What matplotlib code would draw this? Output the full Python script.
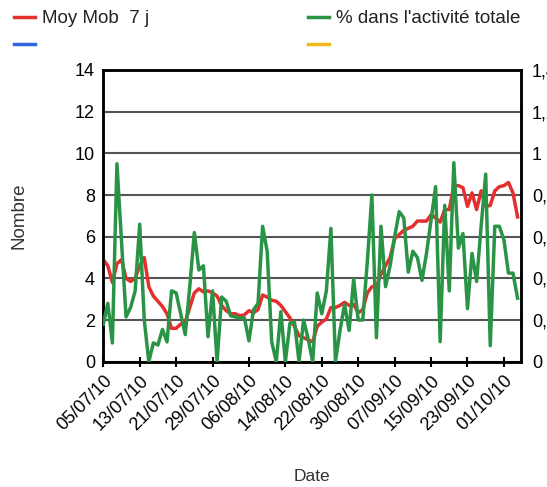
import numpy as np
import pandas as pd
import matplotlib
matplotlib.use("Agg")
import matplotlib.pyplot as plt
import matplotlib.dates as mdates
from matplotlib.lines import Line2D
from matplotlib.ticker import FuncFormatter

plt.rcParams['font.family'] = ['Liberation Sans', 'DejaVu Sans']

start = '2010-07-05'
n_days = 92

# moyenne mobile 7 jours (axe gauche)
moy_mob = [4.9, 4.6, 3.8, 4.7, 4.9, 4.0, 3.85, 4.0, 4.6, 5.0,
           3.6, 3.15, 2.9, 2.65, 2.3, 1.6, 1.6, 1.8, 1.9, 2.6,
           3.3, 3.5, 3.35, 3.4, 3.3, 3.15, 2.7, 2.45, 2.3, 2.3,
           2.2, 2.25, 2.45, 2.35, 2.5, 3.2, 3.1, 2.95, 2.9, 2.7,
           2.4, 2.1, 1.7, 1.25, 1.15, 1.05, 0.95, 1.7, 1.9, 2.05,
           2.6, 2.6, 2.7, 2.85, 2.7, 2.75, 2.35, 2.5, 3.3, 3.6,
           3.6, 4.2, 4.6, 5.0, 5.9, 6.1, 6.3, 6.4, 6.5, 6.75,
           6.75, 6.75, 7.05, 6.9, 6.7, 7.3, 7.3, 8.45, 8.45, 8.35,
           7.45, 8.1, 7.3, 8.2, 7.45, 7.5, 8.2, 8.4, 8.45, 8.6,
           8.1, 6.95]

# part dans l'activite totale (axe droit)
part_activite = [0.18, 0.28, 0.09, 0.95, 0.58, 0.215, 0.26, 0.34, 0.66, 0.20,
                 0.0, 0.09, 0.08, 0.155, 0.095, 0.34, 0.33, 0.23, 0.13, 0.36,
                 0.62, 0.44, 0.46, 0.12, 0.34, 0.0, 0.31, 0.29, 0.22, 0.215,
                 0.21, 0.21, 0.10, 0.25, 0.28, 0.65, 0.53, 0.095, 0.0, 0.24,
                 0.0, 0.185, 0.19, 0.0, 0.20, 0.11, 0.0, 0.33, 0.23, 0.34,
                 0.64, 0.0, 0.15, 0.275, 0.15, 0.395, 0.20, 0.20, 0.48, 0.80,
                 0.115, 0.65, 0.36, 0.46, 0.60, 0.72, 0.69, 0.43, 0.53, 0.50,
                 0.39, 0.52, 0.68, 0.84, 0.096, 0.75, 0.34, 0.955, 0.545, 0.615,
                 0.255, 0.52, 0.385, 0.65, 0.90, 0.077, 0.65, 0.65, 0.585, 0.425,
                 0.425, 0.305]

left_ticks = [0, 2, 4, 6, 8, 10, 12, 14]
right_ticks = [0, 0.2, 0.4, 0.6, 0.8, 1.0, 1.2, 1.4]

red = '#e3302f'
green = '#2a9446'
blue = '#3366dd'
yellow = '#f2b51b'

dates = pd.date_range(start, periods=n_days, freq='D')
ticks = pd.date_range(start, periods=12, freq='8D')

fig = plt.figure(figsize=(5.47, 4.87), dpi=100)
ax = fig.add_axes([0.1888, 0.2573, 0.7632, 0.599])

for y in left_ticks:
    ax.axhline(y, color='#555555', lw=1.5, zorder=1)

ax.plot(dates, moy_mob, color=red, lw=2.5, zorder=3)
ax.set_ylim(0, 14)
ax.set_yticks(left_ticks)
ax.set_xlim(dates[0], dates[0] + pd.Timedelta(days=91.7))
ax.set_xticks(ticks)
ax.xaxis.set_major_formatter(mdates.DateFormatter('%d/%m/%y'))
for lab in ax.get_xticklabels():
    lab.set_rotation(45)
    lab.set_ha('right')
    lab.set_rotation_mode('anchor')
ax.tick_params(axis='x', direction='inout', length=7, width=1.5, labelsize=13, pad=4)
ax.tick_params(axis='y', length=0, labelsize=13, pad=6)
ax.set_ylabel('Nombre', fontsize=13.5, color='#333333', labelpad=34)
ax.set_xlabel('Date', fontsize=12.5, color='#333333', labelpad=25)

ax2 = ax.twinx()
ax2.plot(dates, part_activite, color=green, lw=2.5, zorder=4)
ax2.set_ylim(0, 1.4)
ax2.set_yticks(right_ticks)
ax2.yaxis.set_major_formatter(FuncFormatter(lambda v, p: ('%g' % round(v, 1)).replace('.', ',')))
ax2.tick_params(axis='y', length=0, labelsize=13, pad=8)

for a in (ax, ax2):
    for s in a.spines.values():
        s.set_linewidth(1.8)
        s.set_color('black')

h_red = Line2D([], [], color=red, lw=2.5)
h_blue = Line2D([], [], color=blue, lw=2.5)
h_green = Line2D([], [], color=green, lw=2.5)
h_yellow = Line2D([], [], color=yellow, lw=2.5)

leg_kw = dict(loc='upper left', frameon=False, fontsize=13.5, borderpad=0,
              handlelength=1.1, handletextpad=0.4, labelspacing=0.55,
              labelcolor='#222222', borderaxespad=0)
fig.legend([h_red, h_blue], ['Moy Mob  7 j', ''],
           bbox_to_anchor=(14 / 547, 1 - 10 / 487), **leg_kw)
fig.legend([h_green, h_yellow], ["% dans l'activité totale", ''],
           bbox_to_anchor=(308 / 547, 1 - 10 / 487), **leg_kw)

fig.savefig('out.png', dpi=100)
